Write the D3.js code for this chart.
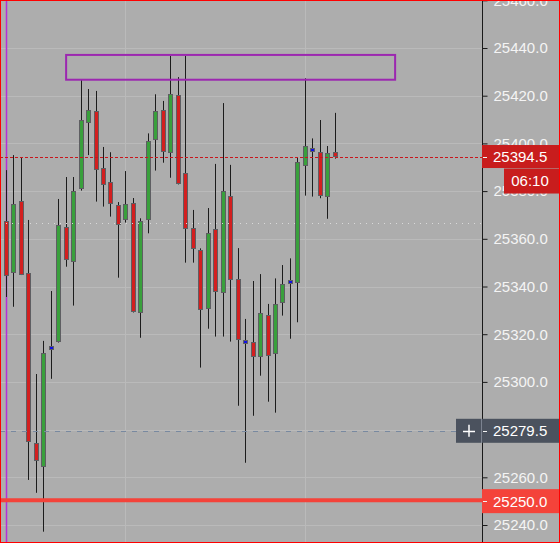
<!DOCTYPE html>
<html>
<head>
<meta charset="utf-8">
<script src="https://cdn.jsdelivr.net/npm/d3@7"></script>
<style>
  html, body { margin: 0; padding: 0; background: #adadad; }
  svg { display: block; }
</style>
</head>
<body>
<svg id="chart" width="560" height="543"></svg>
<script>
// ---- data (bar index -1 is the partially visible bar at the left edge) ----
const barIndex = [-1,0,1,2,3,4,5,6,7,8,9,10,11,12,13,14,15,16,17,18,19,20,21,22,23,24,25,26,27,28,29,30,31,32,33,34,35,36,37,38,39,40,41,42,43,44];
const openP  = [25387.2,25367.5,25345.8,25375.9,25345.5,25274.4,25264.2,25314.1,25316.6,25364.8,25350.2,25380.8,25408.4,25413.5,25389.6,25383.7,25374.2,25367.8,25375.0,25328.8,25367.8,25401.3,25413.9,25396.1,25420.2,25387.5,25364.4,25355.2,25330.7,25364.0,25337.4,25377.8,25343.0,25316.6,25316.6,25310.6,25327.9,25311.8,25333.0,25341.8,25341.3,25390.7,25397.3,25396.3,25377.4,25396.3];
const highP  = [25392.0,25388.8,25395.1,25394.2,25367.9,25303.3,25317.2,25338.1,25376.7,25385.9,25385.9,25426.6,25422.8,25422.0,25398.5,25396.3,25375.4,25388.4,25377.1,25368.6,25404.2,25420.6,25417.8,25436.7,25427.8,25436.7,25372.1,25356.0,25372.9,25391.4,25416.9,25391.0,25356.1,25326.4,25342.3,25345.2,25332.7,25343.4,25349.0,25351.8,25394.2,25427.3,25402.1,25409.8,25398.9,25412.8];
const lowP   = [25335.0,25335.6,25331.5,25344.8,25258.9,25253.5,25237.2,25301.3,25316.5,25348.3,25332.0,25380.2,25395.1,25375.6,25373.5,25369.3,25343.7,25366.8,25329.1,25318.5,25362.3,25388.6,25391.9,25385.6,25382.8,25350.0,25350.0,25306.0,25322.3,25319.0,25319.0,25316.9,25290.0,25266.1,25285.8,25302.6,25291.7,25287.1,25327.8,25318.1,25325.0,25378.1,25377.7,25377.0,25368.4,25393.6];
const closeP = [25367.5,25344.4,25374.6,25345.0,25274.9,25267.0,25312.0,25314.1,25365.7,25351.0,25379.9,25409.7,25413.9,25388.7,25382.4,25374.5,25365.7,25374.6,25329.2,25367.5,25401.0,25413.5,25396.5,25420.6,25382.9,25364.0,25355.6,25330.0,25362.3,25337.8,25379.9,25342.6,25317.4,25316.6,25310.3,25328.8,25311.0,25332.5,25340.9,25341.8,25392.1,25398.8,25397.3,25377.8,25395.9,25394.5];

const priceTicks = [25240,25260,25280,25300,25320,25340,25360,25380,25400,25420,25440,25460];
const lastPrice = 25394.5;
const countdown = "06:10";
const crosshairPrice = 25279.5;
const alertPrice = 25250;
const hintPrice = 25366.6;
const boxZone = {fromBar: 8, toBar: 52, top: 25437.1, bottom: 25426.7};
const markerBar = 0;
const gridBars = [16, 40];

// ---- layout ----
const W = 560, H = 543, axisX = 482;
const svg = d3.select("#chart");
const y = d3.scaleLinear().domain([25240, 25440]).range([525, 48]);
const x = d3.scaleLinear().domain([0, 44]).range([6.3, 335.3]);
const px = v => Math.floor(x(v)) + 0.5;

const bars = barIndex.map((b, i) => ({b, o: openP[i], h: highP[i], l: lowP[i], c: closeP[i]}));

svg.append("rect").attr("width", W).attr("height", H).attr("fill", "#adadad");

// grid
const grid = svg.append("g");
grid.selectAll("line.h").data(priceTicks).join("line")
  .attr("x1", 0).attr("x2", axisX)
  .attr("y1", d => Math.round(y(d)) + 0.5).attr("y2", d => Math.round(y(d)) + 0.5)
  .attr("stroke", "#bababa").attr("stroke-width", 1);
grid.selectAll("line.v").data(gridBars).join("line")
  .attr("x1", d => px(d)).attr("x2", d => px(d))
  .attr("y1", 0).attr("y2", H)
  .attr("stroke", "#bababa").attr("stroke-width", 1);

// magenta vertical marker
svg.append("line")
  .attr("x1", px(markerBar)).attr("x2", px(markerBar)).attr("y1", 0).attr("y2", H)
  .attr("stroke", "#b331d6").attr("stroke-width", 1.5);

// candles
const colorOf = d => d.c > d.o ? "#39a03c" : (d.c < d.o ? "#d31f1f" : "#1010e6");
const cg = svg.append("g");
cg.selectAll("line.wick").data(bars).join("line")
  .attr("x1", d => px(d.b)).attr("x2", d => px(d.b))
  .attr("y1", d => y(d.h)).attr("y2", d => y(d.l))
  .attr("stroke", "#1c1c1c").attr("stroke-width", 1);
cg.selectAll("rect.body").data(bars).join("rect")
  .attr("x", d => px(d.b) - 2)
  .attr("width", 4)
  .attr("y", d => {
    const t = y(Math.max(d.o, d.c)), b = y(Math.min(d.o, d.c));
    return (b - t < 3) ? Math.round((t + b) / 2) - 1.5 : Math.round(t) + 0.5;
  })
  .attr("height", d => {
    const t = y(Math.max(d.o, d.c)), b = y(Math.min(d.o, d.c));
    return (b - t < 3) ? 3 : Math.max(3, Math.round(b) - Math.round(t) - 1);
  })
  .attr("fill", colorOf)
  .attr("stroke", "#5e5e62").attr("stroke-width", 1);

// horizontal level lines (drawn over candles)
svg.append("line").attr("x1", 0).attr("x2", axisX)
  .attr("y1", Math.round(y(hintPrice)) + 0.5).attr("y2", Math.round(y(hintPrice)) + 0.5)
  .attr("stroke", "#d9d9d9").attr("stroke-width", 1).attr("stroke-dasharray", "1,5");
svg.append("line").attr("x1", 0).attr("x2", 456)
  .attr("y1", Math.round(y(crosshairPrice)) + 0.5).attr("y2", Math.round(y(crosshairPrice)) + 0.5)
  .attr("stroke", "#7889a0").attr("stroke-width", 1).attr("stroke-dasharray", "5,6");
svg.append("line").attr("x1", 0).attr("x2", axisX)
  .attr("y1", y(alertPrice) - 1).attr("y2", y(alertPrice) - 1)
  .attr("stroke", "#f4433a").attr("stroke-width", 4);
svg.append("line").attr("x1", 0).attr("x2", axisX)
  .attr("y1", Math.round(y(lastPrice)) + 0.5).attr("y2", Math.round(y(lastPrice)) + 0.5)
  .attr("stroke", "#c8161c").attr("stroke-width", 1).attr("stroke-dasharray", "3,2");

// rectangle zone
svg.append("rect")
  .attr("x", x(boxZone.fromBar)).attr("y", y(boxZone.top))
  .attr("width", x(boxZone.toBar) - x(boxZone.fromBar))
  .attr("height", y(boxZone.bottom) - y(boxZone.top))
  .attr("fill", "none").attr("stroke", "#9c27b0").attr("stroke-width", 2);

// right price axis
const axis = d3.axisRight(y).tickValues(priceTicks).tickSize(5).tickSizeOuter(0)
  .tickPadding(6).tickFormat(d3.format(".1f"));
const ag = svg.append("g").attr("transform", `translate(${axisX + 0.5},0)`).call(axis);
ag.select(".domain").attr("stroke", "#1a1a1a").attr("d", `M0,0V${H}`);
ag.selectAll(".tick line").attr("stroke", "#1a1a1a");
ag.selectAll(".tick text").attr("fill", "#f4f4f4")
  .style("font-family", "'Liberation Sans', Arial, sans-serif").style("font-size", "15px");

// value labels on axis
function axisLabel(price, bg, txt, h) {
  const cy = y(price);
  const g = svg.append("g");
  g.append("rect").attr("x", axisX).attr("y", cy - h / 2).attr("width", W - axisX).attr("height", h).attr("fill", bg);
  g.append("line").attr("x1", axisX + 1).attr("x2", axisX + 5).attr("y1", Math.round(cy) + 0.5).attr("y2", Math.round(cy) + 0.5)
    .attr("stroke", "#f4f4f4");
  g.append("text").attr("x", 493).attr("y", cy).attr("dy", "0.36em").text(txt)
    .attr("fill", "#ffffff").style("font-family", "'Liberation Sans', Arial, sans-serif").style("font-size", "15px");
  return g;
}
axisLabel(lastPrice, "#c81d1d", d3.format(".1f")(lastPrice), 23);
// countdown box
svg.append("rect").attr("x", 504).attr("y", y(lastPrice) + 12).attr("width", W - 504).attr("height", 25).attr("fill", "#c81d1d");
svg.append("text").attr("x", 530).attr("y", y(lastPrice) + 24.5).attr("dy", "0.36em").attr("text-anchor", "middle")
  .text(countdown).attr("fill", "#ffffff")
  .style("font-family", "'Liberation Sans', Arial, sans-serif").style("font-size", "15px");

axisLabel(alertPrice, "#f4433a", d3.format(".1f")(alertPrice), 24);

// crosshair label with plus button
const cyC = y(crosshairPrice);
svg.append("rect").attr("x", 456).attr("y", cyC - 12).attr("width", 25).attr("height", 24).attr("fill", "#4b525e");
svg.append("line").attr("x1", 481.5).attr("x2", 481.5).attr("y1", cyC - 12).attr("y2", cyC + 12).attr("stroke", "#7c8390");
svg.append("line").attr("x1", 463).attr("x2", 475).attr("y1", Math.round(cyC) + 0.5).attr("y2", Math.round(cyC) + 0.5).attr("stroke", "#fff").attr("stroke-width", 1.5);
svg.append("line").attr("x1", 469).attr("x2", 469).attr("y1", cyC - 6).attr("y2", cyC + 6).attr("stroke", "#fff").attr("stroke-width", 1.5);
axisLabel(crosshairPrice, "#4b525e", d3.format(".1f")(crosshairPrice), 24);

// red frame
svg.append("rect").attr("x", 0.5).attr("y", 0.5).attr("width", W - 1).attr("height", H - 1)
  .attr("fill", "none").attr("stroke", "#ff0000").attr("stroke-width", 1);
</script>
</body>
</html>
